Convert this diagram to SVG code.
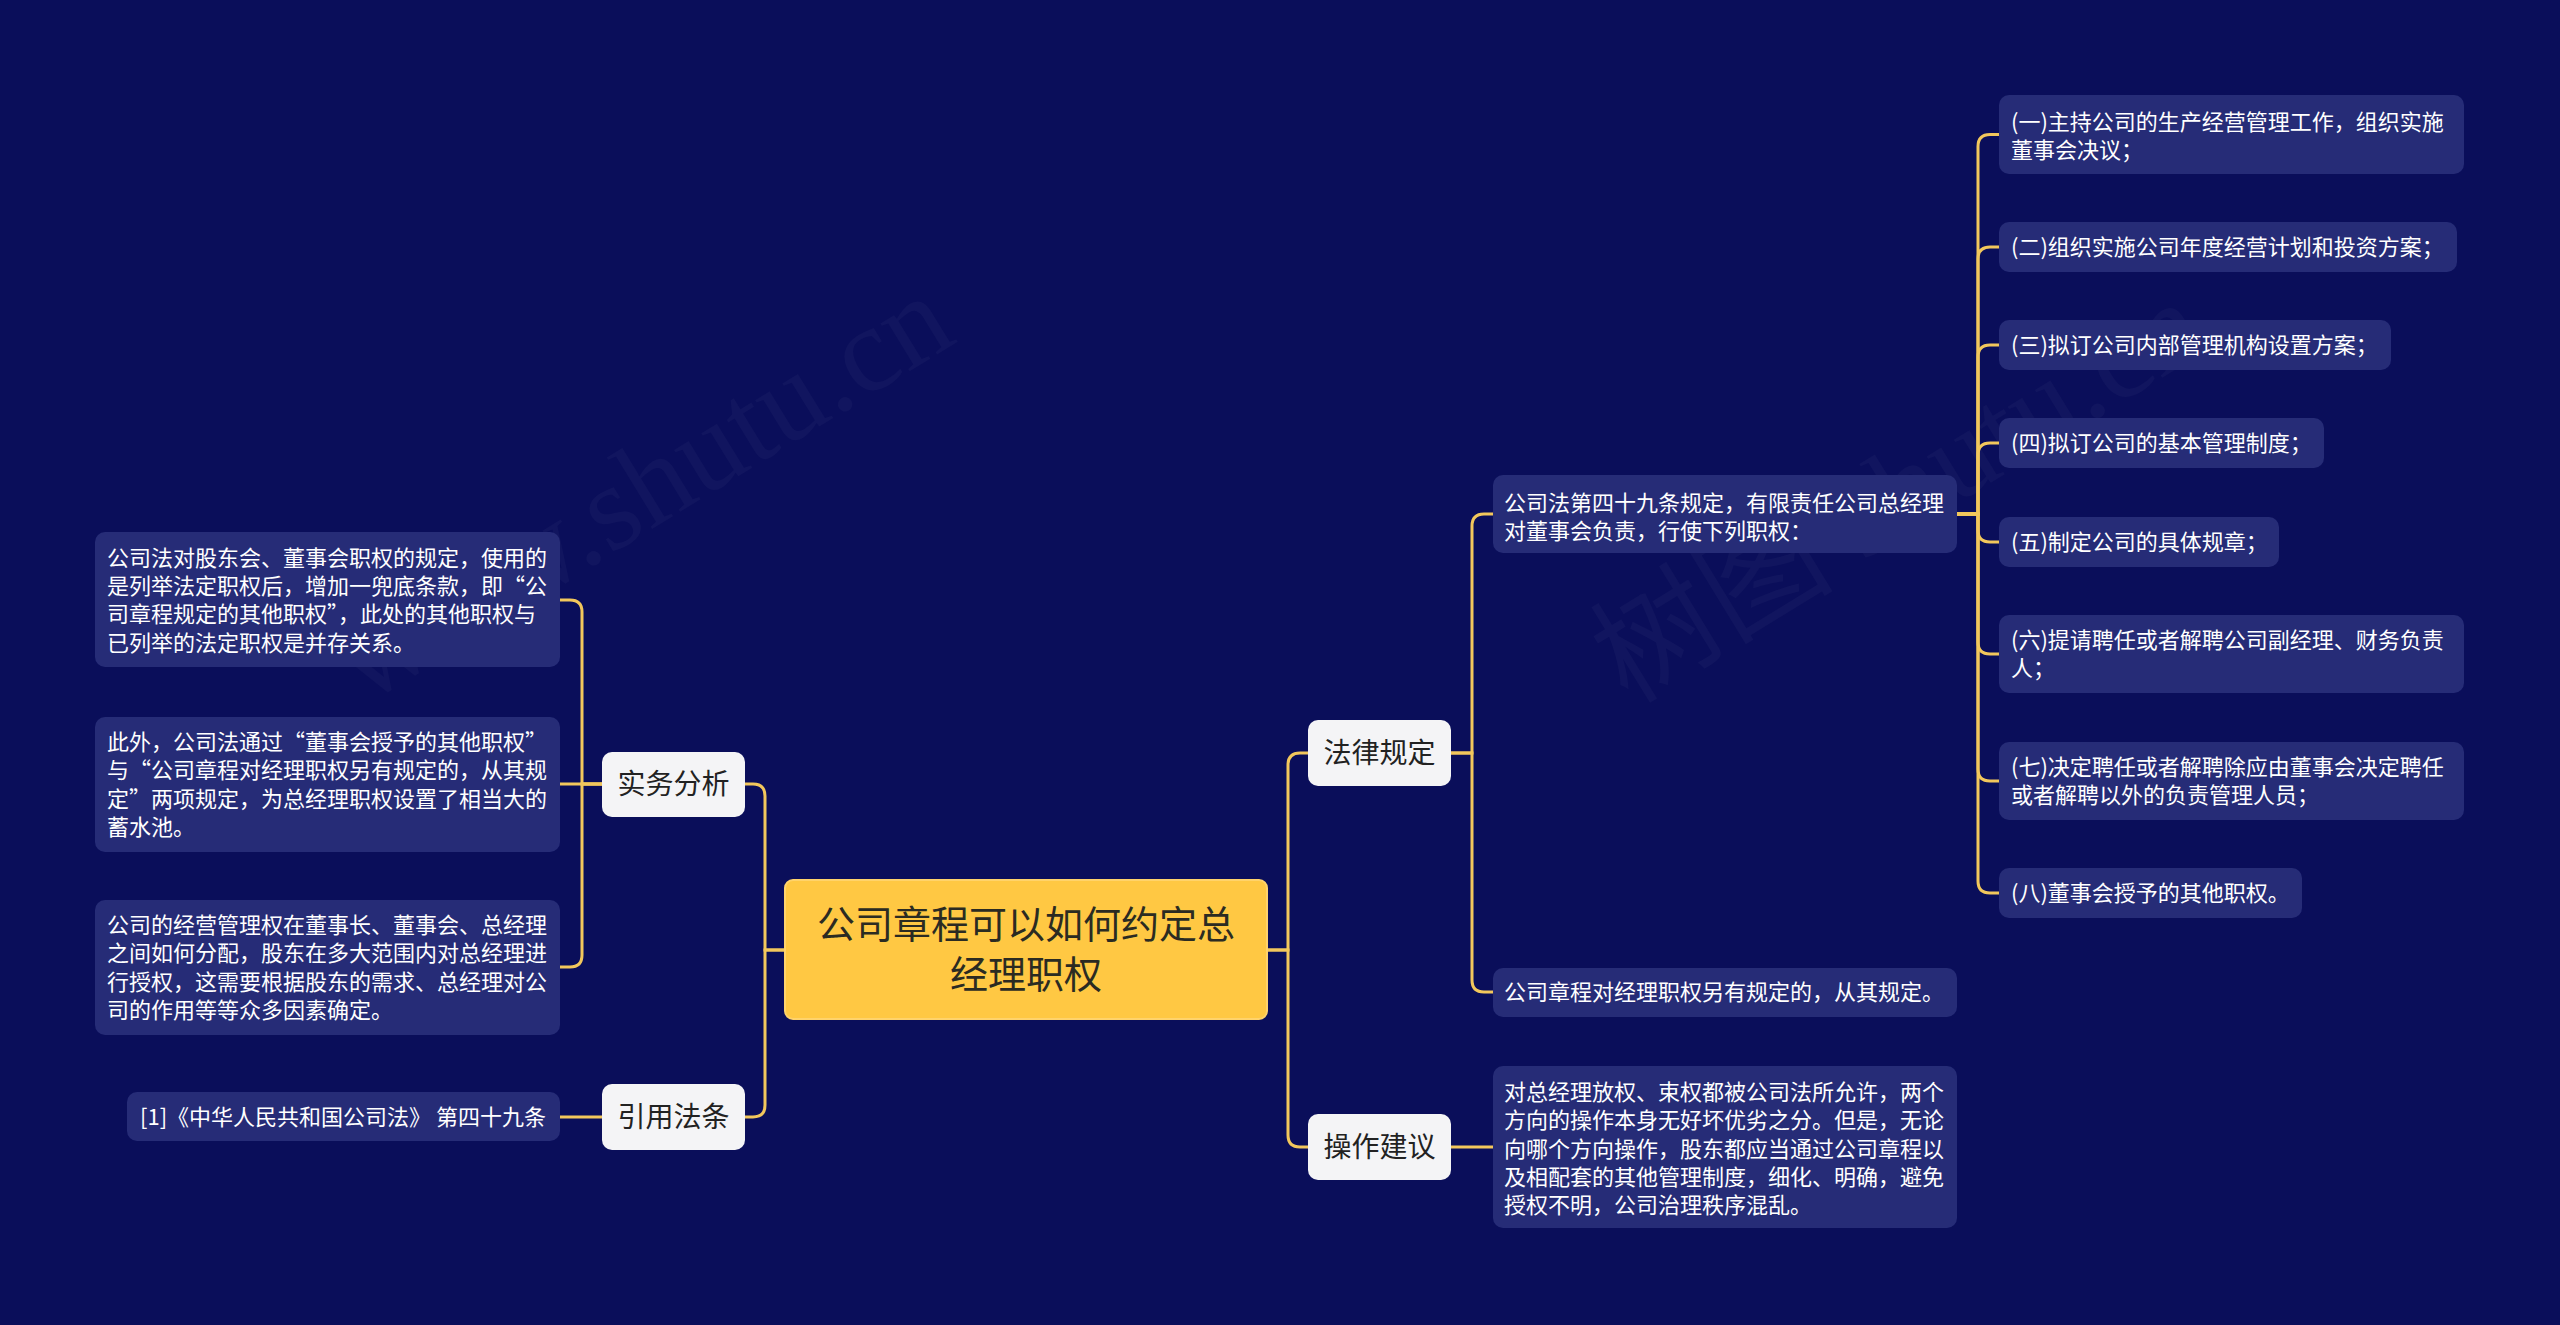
<svg xmlns="http://www.w3.org/2000/svg" width="2560" height="1325" viewBox="0 0 2560 1325">
<style>
.bg{fill:#0a0e5a}
.wm{font-family:"Liberation Serif","Noto Sans CJK SC",serif;font-size:122px;fill:#ffffff;fill-opacity:0.03}
.c{fill:none;stroke:#f2c75c;stroke-width:3;stroke-linecap:round}
.root{fill:#ffc843;stroke:#ffd36b;stroke-width:2}
.rt{font-family:"Noto Sans CJK SC","Noto Sans",sans-serif;font-size:38px;fill:#2b2b22;text-anchor:middle}
.sub{fill:#f4f4f6}
.st{font-family:"Noto Sans CJK SC","Noto Sans",sans-serif;font-size:28px;fill:#222;text-anchor:middle}
.leaf{fill:#262c77}
.lt{font-family:"Noto Sans CJK SC","Noto Sans",sans-serif;font-size:22px;fill:#ffffff}
</style>
<rect class="bg" x="0" y="0" width="2560" height="1325"/>
<text class="wm" transform="translate(365,705) rotate(-31.5)">www.shutu.cn</text>
<text class="wm" transform="translate(1628,705) rotate(-31.5)">树图 shutu.cn</text>

<g id="connectors">
<path class="c" d="M785,950 H765 V796 Q765,784 753,784 H745"/>
<path class="c" d="M785,950 H765 V1105 Q765,1117 753,1117 H745"/>
<path class="c" d="M602,784 H582 V612 Q582,600 570,600 H560"/>
<path class="c" d="M602,784 H560"/>
<path class="c" d="M602,784 H582 V955 Q582,967 570,967 H560"/>
<path class="c" d="M602,1117 H560"/>
<path class="c" d="M1267,950 H1288 V765 Q1288,753 1300,753 H1308"/>
<path class="c" d="M1267,950 H1288 V1135 Q1288,1147 1300,1147 H1308"/>
<path class="c" d="M1451,753 H1472 V526 Q1472,514 1484,514 H1493"/>
<path class="c" d="M1451,753 H1472 V980 Q1472,992 1484,992 H1493"/>
<path class="c" d="M1451,1147 H1493"/>
<path class="c" d="M1957,514 H1978 V146.5 Q1978,134.5 1990,134.5 H1999"/>
<path class="c" d="M1957,514 H1978 V259 Q1978,247 1990,247 H1999"/>
<path class="c" d="M1957,514 H1978 V357 Q1978,345 1990,345 H1999"/>
<path class="c" d="M1957,514 H1978 V455 Q1978,443 1990,443 H1999"/>
<path class="c" d="M1957,514 H1978 V530 Q1978,542 1990,542 H1999"/>
<path class="c" d="M1957,514 H1978 V642 Q1978,654 1990,654 H1999"/>
<path class="c" d="M1957,514 H1978 V769 Q1978,781 1990,781 H1999"/>
<path class="c" d="M1957,514 H1978 V881 Q1978,893 1990,893 H1999"/>
</g>

<g id="root">
<rect class="root" x="785" y="880" width="482" height="139" rx="8"/>
<text class="rt" x="1026" y="938">公司章程可以如何约定总</text>
<text class="rt" x="1026" y="988">经理职权</text>
</g>

<g id="n-shiwu">
<rect class="sub" x="602" y="752" width="143" height="65" rx="10"/>
<text class="st" x="673.5" y="794">实务分析</text>
</g>
<g id="n-yinyong">
<rect class="sub" x="602" y="1084" width="143" height="66" rx="10"/>
<text class="st" x="673.5" y="1127">引用法条</text>
</g>
<g id="n-falv">
<rect class="sub" x="1308" y="720" width="143" height="66" rx="10"/>
<text class="st" x="1379.5" y="763">法律规定</text>
</g>
<g id="n-caozuo">
<rect class="sub" x="1308" y="1114" width="143" height="66" rx="10"/>
<text class="st" x="1379.5" y="1157">操作建议</text>
</g>

<g id="l-left1">
<rect class="leaf" x="95" y="532" width="465" height="135" rx="10"/>
<text class="lt" x="107" y="566">公司法对股东会、董事会职权的规定，使用的</text>
<text class="lt" x="107" y="594">是列举法定职权后，增加一兜底条款，即“公</text>
<text class="lt" x="107" y="622">司章程规定的其他职权”，此处的其他职权与</text>
<text class="lt" x="107" y="651">已列举的法定职权是并存关系。</text>
</g>
<g id="l-left2">
<rect class="leaf" x="95" y="717" width="465" height="135" rx="10"/>
<text class="lt" x="107" y="750">此外，公司法通过“董事会授予的其他职权”</text>
<text class="lt" x="107" y="778">与“公司章程对经理职权另有规定的，从其规</text>
<text class="lt" x="107" y="807">定”两项规定，为总经理职权设置了相当大的</text>
<text class="lt" x="107" y="835">蓄水池。</text>
</g>
<g id="l-left3">
<rect class="leaf" x="95" y="900" width="465" height="135" rx="10"/>
<text class="lt" x="107" y="933">公司的经营管理权在董事长、董事会、总经理</text>
<text class="lt" x="107" y="961">之间如何分配，股东在多大范围内对总经理进</text>
<text class="lt" x="107" y="990">行授权，这需要根据股东的需求、总经理对公</text>
<text class="lt" x="107" y="1018">司的作用等等众多因素确定。</text>
</g>
<g id="l-cite">
<rect class="leaf" x="127" y="1092" width="433" height="49" rx="10"/>
<text class="lt" x="140" y="1125">[1]《中华人民共和国公司法》 第四十九条</text>
</g>

<g id="l-a">
<rect class="leaf" x="1493" y="475" width="464" height="78" rx="10"/>
<text class="lt" x="1504" y="511">公司法第四十九条规定，有限责任公司总经理</text>
<text class="lt" x="1504" y="539">对董事会负责，行使下列职权：</text>
</g>
<g id="l-b">
<rect class="leaf" x="1493" y="968" width="464" height="49" rx="10"/>
<text class="lt" x="1504" y="1000">公司章程对经理职权另有规定的，从其规定。</text>
</g>
<g id="l-c">
<rect class="leaf" x="1493" y="1066" width="464" height="162" rx="10"/>
<text class="lt" x="1504" y="1100">对总经理放权、束权都被公司法所允许，两个</text>
<text class="lt" x="1504" y="1128">方向的操作本身无好坏优劣之分。但是，无论</text>
<text class="lt" x="1504" y="1157">向哪个方向操作，股东都应当通过公司章程以</text>
<text class="lt" x="1504" y="1185">及相配套的其他管理制度，细化、明确，避免</text>
<text class="lt" x="1504" y="1213">授权不明，公司治理秩序混乱。</text>
</g>

<g id="l-1">
<rect class="leaf" x="1999" y="95" width="465" height="79" rx="10"/>
<text class="lt" x="2011" y="130">(一)主持公司的生产经营管理工作，组织实施</text>
<text class="lt" x="2011" y="158">董事会决议；</text>
</g>
<g id="l-2">
<rect class="leaf" x="1999" y="222" width="458" height="50" rx="10"/>
<text class="lt" x="2011" y="255">(二)组织实施公司年度经营计划和投资方案；</text>
</g>
<g id="l-3">
<rect class="leaf" x="1999" y="320" width="392" height="50" rx="10"/>
<text class="lt" x="2011" y="353">(三)拟订公司内部管理机构设置方案；</text>
</g>
<g id="l-4">
<rect class="leaf" x="1999" y="418" width="325" height="50" rx="10"/>
<text class="lt" x="2011" y="451">(四)拟订公司的基本管理制度；</text>
</g>
<g id="l-5">
<rect class="leaf" x="1999" y="517" width="280" height="50" rx="10"/>
<text class="lt" x="2011" y="550">(五)制定公司的具体规章；</text>
</g>
<g id="l-6">
<rect class="leaf" x="1999" y="615" width="465" height="78" rx="10"/>
<text class="lt" x="2011" y="648">(六)提请聘任或者解聘公司副经理、财务负责</text>
<text class="lt" x="2011" y="676">人；</text>
</g>
<g id="l-7">
<rect class="leaf" x="1999" y="742" width="465" height="78" rx="10"/>
<text class="lt" x="2011" y="775">(七)决定聘任或者解聘除应由董事会决定聘任</text>
<text class="lt" x="2011" y="803">或者解聘以外的负责管理人员；</text>
</g>
<g id="l-8">
<rect class="leaf" x="1999" y="868" width="303" height="50" rx="10"/>
<text class="lt" x="2011" y="901">(八)董事会授予的其他职权。</text>
</g>
</svg>
